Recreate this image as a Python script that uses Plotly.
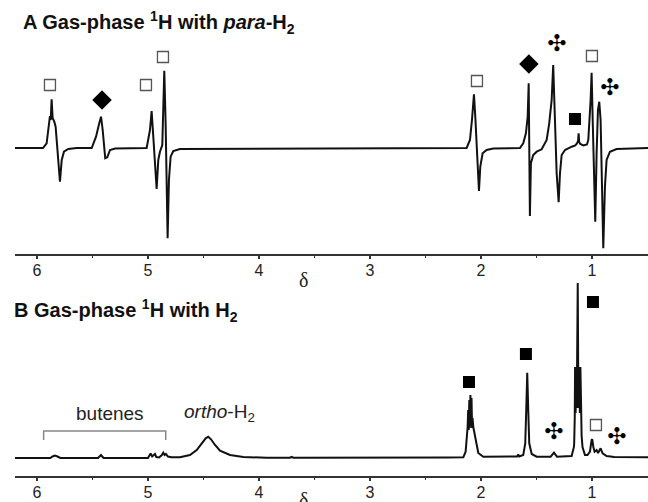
import plotly.graph_objects as go

# ---------------- data ----------------
# Panel A: gas-phase 1H with para-H2 (chemical shift, intensity a.u.)
a_delta = [6.198, 5.946, 5.913, 5.889, 5.883, 5.876, 5.868, 5.859, 5.844, 5.832, 5.817, 5.802, 5.793, 5.777, 5.757, 5.718, 5.642,
           5.507, 5.468, 5.439, 5.423, 5.408, 5.396, 5.385, 5.367, 5.342, 5.297,
           5.012, 4.982, 4.967, 4.952, 4.937, 4.922, 4.907, 4.892, 4.871, 4.862, 4.853, 4.841, 4.832, 4.823, 4.811, 4.796, 4.772, 4.712,
           2.129, 2.099, 2.081, 2.063, 2.051, 2.039, 2.027, 2.018, 2.006, 1.985, 1.949, 1.889,
           1.649, 1.619, 1.595, 1.579, 1.570, 1.565, 1.559, 1.550, 1.529, 1.498, 1.453,
           1.408, 1.385, 1.363, 1.349, 1.340, 1.327, 1.318, 1.300, 1.288, 1.273, 1.243, 1.183,
           1.150, 1.135, 1.125, 1.120, 1.115, 1.105, 1.078,
           1.045, 1.033, 1.012, 1.003, 0.994, 0.982, 0.970, 0.958,
           0.946, 0.934, 0.922, 0.910, 0.898, 0.883, 0.868, 0.838, 0.778, 0.495]
a_int = [0, 0, 4.7, 23, 32, 28, 48.7, 30, 26.3, 21.3, 0, -18.7, -33.7, -12, -3.7, -1, 0,
         0, 11.3, 24.7, 31.3, 18, -2, -10.3, -9.3, -2, -0.5,
         0, 18, 37, 11.3, -18.7, -41, -12, -3.7, 3, 41.3, 77.3, 24.7, -32, -90.3, -32, -8.7, -3, -1,
         0, 8, 28, 53.7, 31.3, 1.3, -22, -43, -18.7, -5.3, -2, -0.5,
         0, 4.7, 14.7, 31.3, 64.7, 14.7, -68, -15.3, -7, -3.7, -1.3,
         8, 24.7, 48, 83, 51.3, 14.7, -25.3, -54.3, -25.3, -7, -2, 1.3,
         2.5, 4.5, 7, 14.7, 6, 4, 2.5,
         3.5, 8, 48, 75.3, 31.3, -18.7, -73.7, -5.3,
         38, 46.3, 28, -35.3, -100.3, -38.7, -12, -3.7, -1, 0]

# Panel B: gas-phase 1H with normal H2
b_delta = [6.198, 5.88, 5.86, 5.838, 5.815, 5.79, 5.45, 5.432, 5.423, 5.412, 5.40,
           5.00, 4.985, 4.976, 4.962, 4.95, 4.937, 4.925, 4.90, 4.875, 4.862, 4.850, 4.838, 4.82, 4.79,
           4.712, 4.622, 4.561, 4.516, 4.480, 4.457, 4.432, 4.396, 4.351, 4.261, 4.141, 3.931, 3.72, 3.706, 3.69,
           2.30, 2.159, 2.138, 2.129, 2.120, 2.115, 2.110, 2.105, 2.100, 2.095, 2.090, 2.085, 2.080, 2.076, 2.069, 2.060, 2.045, 2.024, 1.979,
           1.70, 1.675, 1.664, 1.655, 1.619, 1.601, 1.592, 1.583, 1.574, 1.565, 1.543, 1.498,
           1.372, 1.342, 1.315,
           1.183, 1.162, 1.160, 1.155, 1.152, 1.147, 1.142, 1.137, 1.132, 1.128, 1.124, 1.119, 1.114, 1.109, 1.104, 1.099, 1.093, 1.085, 1.063,
           1.040, 1.025, 1.018, 1.003, 0.997, 0.988, 0.976, 0.958, 0.945, 0.935, 0.922, 0.904, 0.868, 0.80, 0.60, 0.495]
b_int = [0, 0, 1.5, 2.5, 1.5, 0, 0, 2, 3, 1.5, 0,
         0, 3, 4.5, 1.5, 3, 4, 1, 0.5, 3, 5.3, 3, 4, 1.5, 0.7,
         0.7, 3, 8, 14.7, 19.7, 21.3, 18.7, 13, 7.3, 3, 1, 0.3, 0.3, 1.2, 0.3,
         0.5, 0.7, 6.3, 18, 31, 48, 28, 58, 30, 63, 32, 60, 30, 40, 31, 26, 15, 5, 1.3,
         1, 1.5, 3.5, 1.5, 3, 14.7, 48, 85.3, 48, 14.7, 4, 1.3,
         1.3, 5.3, 1.3,
         2, 11.3, 15, 40, 91, 45, 91, 50, 91, 175, 91, 50, 91, 45, 91, 40, 22, 11, 3,
         3, 5.5, 6.3, 18, 18.7, 11.3, 6.3, 8, 5, 7, 9.7, 4.7, 2, 1, 0.7, 0.7]

# Assignment symbols (delta, intensity)
a_open_sq_delta = [5.883, 5.018, 4.865, 2.036, 1.000]
a_open_sq_int = [63, 63, 91, 67, 92]
a_diamond_delta = [5.414, 1.568]
a_diamond_int = [48, 84]
a_filled_sq_delta = [1.153]
a_filled_sq_int = [29]
a_asterisk_delta = [1.315, 0.838]
a_asterisk_int = [103, 59]

b_filled_sq_delta = [2.108, 1.595, 0.991]
b_filled_sq_int = [76, 104, 156]
b_open_sq_delta = [0.964]
b_open_sq_int = [33]
b_asterisk_delta = [1.342, 0.775]
b_asterisk_int = [25, 20]

tick_vals = [6, 5, 4, 3, 2, 1]
tick_text = ["6", "5", "4", "3", "2", "1"]
minor_vals = [5.5, 4.5, 3.5, 2.5, 1.5]

# ---------------- figure ----------------
W, H = 648, 502
def fx(p):
    return p / W
def fy(p):
    return 1 - p / H

LINE = "#111111"
fig = go.Figure()

fig.add_trace(go.Scatter(x=a_delta, y=a_int, mode="lines", line=dict(color=LINE, width=2),
                         xaxis="x", yaxis="y", hoverinfo="skip"))
fig.add_trace(go.Scatter(x=b_delta, y=b_int, mode="lines", line=dict(color=LINE, width=2),
                         xaxis="x2", yaxis="y2", hoverinfo="skip"))

def sym_traces(xd, yd, xa, ya, kind):
    if kind == "open":
        return go.Scatter(x=xd, y=yd, mode="markers", xaxis=xa, yaxis=ya, hoverinfo="skip",
                          marker=dict(symbol="square-open", size=11, color="#555555", line=dict(width=1.3)))
    if kind == "filled":
        return go.Scatter(x=xd, y=yd, mode="markers", xaxis=xa, yaxis=ya, hoverinfo="skip",
                          marker=dict(symbol="square", size=12, color="#000000", line=dict(width=0)))
    if kind == "diamond":
        return go.Scatter(x=xd, y=yd, mode="markers", xaxis=xa, yaxis=ya, hoverinfo="skip",
                          marker=dict(symbol="diamond", size=15, color="#000000", line=dict(width=0)))
    return go.Scatter(x=xd, y=yd, mode="text", xaxis=xa, yaxis=ya, text=["✣"] * len(xd),
                      textposition="middle center", hoverinfo="skip",
                      textfont=dict(family="DejaVu Sans", size=23, color="#000000"))

fig.add_trace(sym_traces(a_open_sq_delta, a_open_sq_int, "x", "y", "open"))
fig.add_trace(sym_traces(a_diamond_delta, a_diamond_int, "x", "y", "diamond"))
fig.add_trace(sym_traces(a_filled_sq_delta, a_filled_sq_int, "x", "y", "filled"))
fig.add_trace(sym_traces(a_asterisk_delta, a_asterisk_int, "x", "y", "ast"))
fig.add_trace(sym_traces(b_filled_sq_delta, b_filled_sq_int, "x2", "y2", "filled"))
fig.add_trace(sym_traces(b_open_sq_delta, b_open_sq_int, "x2", "y2", "open"))
fig.add_trace(sym_traces(b_asterisk_delta, b_asterisk_int, "x2", "y2", "ast"))

xr = [6.198, 0.495]
xaxis_common = dict(range=xr, showline=True, linecolor="#333333", linewidth=2,
                    ticks="outside", ticklen=3, tickwidth=2, tickcolor="#333333",
                    tickmode="array", tickvals=tick_vals, ticktext=tick_text,
                    tickfont=dict(family="Liberation Sans", size=16, color="#222222"),
                    ticklabelstandoff=-2,
                    minor=dict(tickmode="array", tickvals=minor_vals, ticks="outside", ticklen=2, tickwidth=1.5, tickcolor="#333333"),
                    showgrid=False, zeroline=False, fixedrange=True,
                    domain=[fx(15), 1.0])

fig.update_layout(
    width=W, height=H, margin=dict(l=0, r=0, t=0, b=0),
    paper_bgcolor="white", plot_bgcolor="white", showlegend=False,
    xaxis=dict(anchor="y", **xaxis_common),
    yaxis=dict(domain=[fy(254), fy(30)], range=[-106, 118], visible=False, fixedrange=True),
    xaxis2=dict(anchor="y2", **xaxis_common),
    yaxis2=dict(domain=[fy(476), fy(280)], range=[-18, 178], visible=False, fixedrange=True),
)

anns = [
    dict(text="<b>A Gas-phase <sup>1</sup>H with <i>para</i>-H<sub>2</sub></b>", x=fx(21), y=fy(23),
         xanchor="left", yanchor="middle", font=dict(family="Liberation Sans", size=20, color="#111111")),
    dict(text="<b>B Gas-phase <sup>1</sup>H with H<sub>2</sub></b>", x=fx(12), y=fy(310),
         xanchor="left", yanchor="middle", font=dict(family="Liberation Sans", size=20, color="#111111")),
    dict(text="δ", x=fx(303), y=fy(280), xanchor="center", yanchor="middle",
         font=dict(family="Liberation Serif", size=20, color="#222222")),
    dict(text="δ", x=fx(303), y=fy(500), xanchor="center", yanchor="middle",
         font=dict(family="Liberation Serif", size=20, color="#222222")),
]
for a in anns:
    a.update(xref="paper", yref="paper", showarrow=False)
    fig.add_annotation(**a)

fig.add_annotation(text="butenes", x=5.34, y=45, xref="x2", yref="y2", showarrow=False,
                   font=dict(family="Liberation Sans", size=19, color="#222222"))
fig.add_annotation(text="<i>ortho</i>-H<sub>2</sub>", x=4.36, y=45, xref="x2", yref="y2", showarrow=False,
                   font=dict(family="Liberation Sans", size=19, color="#222222"))

fig.add_shape(type="path", xref="x2", yref="y2",
              path="M 5.94,18 L 5.94,27 L 4.84,27 L 4.84,18",
              line=dict(color="#888888", width=1.5))

fig.write_html("out.html", config={"displayModeBar": False, "staticPlot": True},
               post_script="document.body.style.margin='0';document.body.style.overflow='hidden';")
